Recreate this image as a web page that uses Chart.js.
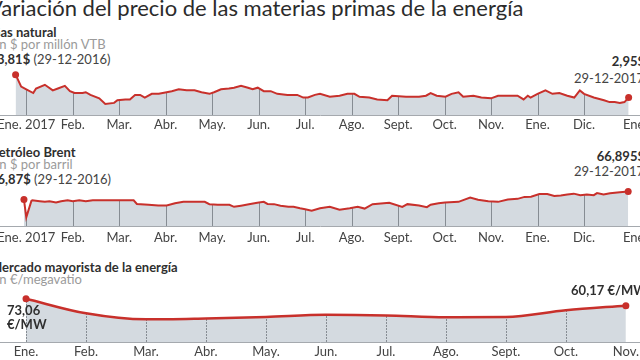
<!DOCTYPE html>
<html>
<head>
<meta charset="utf-8">
<script src="https://cdn.jsdelivr.net/npm/chart.js@4.4.1/dist/chart.umd.min.js"></script>
<style>
  body { margin: 0; width: 640px; height: 360px; overflow: hidden; background: #fff; position: relative; font-family: Lato, "Open Sans", sans-serif; }
  .t { position: absolute; white-space: nowrap; line-height: 1; color: #333; }
  .title { font-size: 22px; color: #2b2b2b; }
  .name { font-size: 13px; font-weight: 700; color: #2f2f2f; }
  .unit { font-size: 13px; color: #9a9a9a; }
  .val { font-size: 13px; color: #444; }
  .val b { color: #2f2f2f; }
  .r { text-align: right; }
  canvas { position: absolute; left: -40px; }
</style>
</head>
<body>

<div class="t title" style="left:-12px; top:-3px;">Variación del precio de las materias primas de la energía</div>

<!-- Gas natural -->
<div class="t name" style="left:-9px; top:26px;">Gas natural</div>
<div class="t unit" style="left:-8px; top:38px;">En $ por millón VTB</div>
<div class="t val" style="left:-3px; top:53px;"><b>3,81$</b> (29-12-2016)</div>
<div class="t val r" style="right:-5px; top:55px;"><b>2,95$</b></div>
<div class="t val r" style="right:-4px; top:72px;">29-12-2017</div>
<canvas id="gasChart" width="720" height="75" style="top:60px;"></canvas>

<!-- Petróleo Brent -->
<div class="t name" style="left:-9px; top:146px;">Petróleo Brent</div>
<div class="t unit" style="left:-8px; top:158px;">En $ por barril</div>
<div class="t val" style="left:-10px; top:173px;"><b>56,87$</b> (29-12-2016)</div>
<div class="t val r" style="right:-5px; top:150px;"><b>66,895$</b></div>
<div class="t val r" style="right:-4px; top:165px;">29-12-2017</div>
<canvas id="brentChart" width="720" height="80" style="top:170px;"></canvas>

<!-- Mercado mayorista -->
<div class="t name" style="left:-10px; top:261px;">Mercado mayorista de la energía</div>
<div class="t unit" style="left:-8px; top:273px;">En €/megavatio</div>
<canvas id="powerChart" width="720" height="77" style="top:285px;"></canvas>
<div class="t val" style="left:7px; top:304px;"><b>73,06</b></div>
<div class="t val" style="left:7px; top:318px;"><b>€/MW</b></div>
<div class="t val r" style="right:-7px; top:284px;"><b>60,17 €/MW</b></div>

<script>
// Data (x = months since Jan 2017)
const monthLabels2017 = ['Ene. 2017', 'Feb.', 'Mar.', 'Abr.', 'May.', 'Jun.', 'Jul.', 'Ago.', 'Sept.', 'Oct.', 'Nov.', 'Ene.', 'Dic.', 'Ene.'];
const monthTicks2017 = [0, 1, 2, 3, 4, 5, 6, 7, 8, 9, 10, 11, 12, 13.1];

const gasMonths = [
  -0.23, -0.11, 0.00, 0.15, 0.21, 0.40, 0.57, 0.68, 0.83, 0.94,
  1.04, 1.21, 1.28, 1.38, 1.57, 1.70, 1.89, 1.96, 2.13, 2.23,
  2.34, 2.45, 2.55, 2.70, 2.85, 3.02, 3.13, 3.28, 3.45, 3.62,
  3.77, 3.94, 4.04, 4.19, 4.36, 4.47, 4.62, 4.77, 4.87, 4.98,
  5.11, 5.26, 5.40, 5.62, 5.83, 5.96, 6.06, 6.21, 6.32, 6.53,
  6.74, 6.91, 7.06, 7.17, 7.38, 7.55, 7.77, 7.87, 8.17, 8.45,
  8.60, 8.70, 8.83, 9.02, 9.15, 9.30, 9.40, 9.62, 9.79, 10.00,
  10.15, 10.40, 10.57, 10.70, 10.79, 10.85, 11.00, 11.17, 11.32, 11.47,
  11.64, 11.79, 11.91, 12.00, 12.21, 12.43, 12.55, 12.66, 12.77, 12.87,
  12.96
];
const gasValues = [
  3.81, 3.36, 3.26, 3.12, 3.29, 3.43, 3.22, 3.29, 3.39, 3.19,
  3.12, 3.12, 3.15, 3.05, 2.92, 2.71, 2.75, 2.85, 2.88, 2.88,
  3.05, 3.05, 2.95, 3.09, 3.09, 3.15, 3.19, 3.26, 3.22, 3.22,
  3.15, 3.09, 3.15, 3.26, 3.29, 3.32, 3.39, 3.32, 3.26, 3.32,
  3.19, 3.19, 3.09, 3.05, 3.05, 2.95, 2.95, 3.05, 3.09, 2.98,
  3.02, 3.09, 3.09, 2.98, 2.95, 2.88, 2.85, 3.02, 2.98, 2.98,
  3.02, 3.12, 3.02, 2.98, 3.09, 3.15, 2.98, 3.02, 2.95, 2.92,
  3.02, 3.02, 3.02, 2.88, 3.02, 2.95, 3.09, 3.22, 3.09, 3.12,
  3.02, 2.95, 3.22, 3.09, 2.95, 2.85, 2.78, 2.78, 2.75, 2.78,
  2.95
];

const brentMonths = [
  -0.05, 0.00, 0.11, 0.13, 0.29, 0.40, 0.50, 0.64, 0.75, 0.89,
  1.00, 1.14, 1.28, 1.43, 1.64, 1.85, 2.06, 2.31, 2.38, 2.63,
  2.84, 3.02, 3.20, 3.38, 3.62, 3.84, 3.94, 4.12, 4.37, 4.47,
  4.62, 4.79, 4.97, 5.11, 5.19, 5.33, 5.47, 5.64, 5.75, 5.89,
  6.00, 6.14, 6.32, 6.53, 6.74, 6.96, 7.13, 7.28, 7.45, 7.81,
  8.09, 8.20, 8.45, 8.62, 8.70, 8.87, 9.01, 9.30, 9.55, 9.72,
  9.94, 10.15, 10.36, 10.57, 10.72, 10.86, 11.04, 11.21, 11.36, 11.50,
  11.64, 11.78, 11.92, 12.06, 12.21, 12.28, 12.42, 12.56, 12.77, 12.95
];
const brentValues = [
  56.87, 34.3, 55.0, 55.8, 54.6, 53.9, 54.6, 53.2, 54.6, 55.8,
  54.6, 55.8, 54.6, 55.8, 55.8, 55.8, 55.8, 55.8, 51.3, 50.2,
  49.4, 49.4, 52.1, 53.9, 53.9, 53.9, 51.0, 50.2, 50.2, 47.6,
  49.1, 51.0, 52.8, 53.9, 51.3, 51.0, 49.1, 47.6, 47.6, 45.7,
  44.6, 42.7, 45.7, 47.6, 43.8, 45.7, 47.6, 45.4, 51.0, 52.8,
  47.6, 51.0, 49.4, 47.2, 50.2, 52.1, 53.2, 53.9, 59.4, 56.5,
  54.6, 53.9, 56.9, 57.7, 60.2, 60.5, 63.9, 63.9, 61.3, 62.1,
  63.2, 64.3, 62.4, 63.2, 62.4, 65.0, 63.2, 64.7, 66.1, 66.895
];

const powerLabels = ['Ene.', 'Feb.', 'Mar.', 'Abr.', 'May.', 'Jun.', 'Jul.', 'Ago.', 'Sept.', 'Oct.', 'Nov.'];
const powerMonths = [0, 1, 2, 3, 4, 5, 6, 7, 8, 9, 10];
const powerValues = [73.06, 45.9, 34.7, 36.4, 39.1, 43.2, 42.0, 38.6, 39.1, 51.7, 60.17];

const RED = '#c8302b';
const FILL = '#d4dae0';

// vertical month lines, only drawn under the line (inside the grey area)
const underGrid = {
  id: 'underGrid',
  beforeDatasetsDraw(chart, args, opts) {
    const pts = chart.getDatasetMeta(0).data;
    const { ctx, chartArea, scales } = chart;
    ctx.save();
    ctx.beginPath();
    ctx.moveTo(pts[0].x, chartArea.bottom);
    pts.forEach(p => ctx.lineTo(p.x, p.y));
    ctx.lineTo(pts[pts.length - 1].x, chartArea.bottom);
    ctx.closePath();
    ctx.clip();
    ctx.strokeStyle = opts.color;
    ctx.lineWidth = 1;
    ctx.setLineDash(opts.dash || []);
    scales.x.ticks.forEach(t => {
      const px = Math.round(scales.x.getPixelForValue(t.value)) + 0.5;
      ctx.beginPath();
      ctx.moveTo(px, chartArea.top);
      ctx.lineTo(px, chartArea.bottom);
      ctx.stroke();
    });
    ctx.restore();
  }
};

function makeChart(id, cfg) {
  const n = cfg.months.length;
  const points = cfg.months.map((m, i) => ({ x: m, y: cfg.values[i] }));
  return new Chart(document.getElementById(id), {
    type: 'line',
    data: {
      datasets: [{
        data: points,
        borderColor: RED,
        borderWidth: cfg.lineWidth,
        backgroundColor: FILL,
        fill: 'start',
        tension: cfg.smooth ? 0.35 : 0,
        cubicInterpolationMode: cfg.smooth ? 'monotone' : 'default',
        pointRadius: c => (c.dataIndex === 0 || c.dataIndex === n - 1) ? 3.5 : 0,
        pointBackgroundColor: RED,
        pointBorderWidth: 0,
        clip: false
      }]
    },
    options: {
      responsive: false,
      animation: false,
      events: [],
      layout: { padding: 0 },
      plugins: {
        legend: { display: false },
        tooltip: { enabled: false },
        filler: { drawTime: 'beforeDatasetsDraw' },
        underGrid: { color: '#868c93', dash: cfg.dash }
      },
      scales: {
        x: {
          type: 'linear',
          min: cfg.xMin,
          max: cfg.xMax,
          afterBuildTicks: s => { s.ticks = cfg.ticks.map(v => ({ value: v })); },
          grid: { display: false, drawTicks: false },
          border: { display: true, color: '#a5a9ae', width: 1, z: 1 },
          ticks: {
            autoSkip: false,
            maxRotation: 0,
            padding: cfg.padding,
            color: '#444',
            font: { family: 'Lato', size: 13 },
            callback: (v, i) => cfg.labels[i]
          }
        },
        y: { display: false, min: cfg.yMin, max: cfg.yMax }
      }
    },
    plugins: [underGrid]
  });
}

makeChart('gasChart', {
  months: gasMonths, values: gasValues,
  ticks: monthTicks2017, labels: monthLabels2017,
  xMin: -1.340, xMax: 13.979, yMin: 2.28, yMax: 4.21,
  padding: 2, lineWidth: 2, smooth: false, dash: []
});

makeChart('brentChart', {
  months: brentMonths, values: brentValues,
  ticks: monthTicks2017, labels: monthLabels2017,
  xMin: -1.340, xMax: 13.979, yMin: 22.8, yMax: 89.2,
  padding: 4, lineWidth: 2, smooth: false, dash: []
});

makeChart('powerChart', {
  months: powerMonths, values: powerValues,
  ticks: powerMonths, labels: powerLabels,
  xMin: -1.034, xMax: 10.836, yMin: -8.2, yMax: 91.2,
  padding: 2, lineWidth: 2.5, smooth: true, dash: [2, 1]
});
</script>
</body>
</html>
